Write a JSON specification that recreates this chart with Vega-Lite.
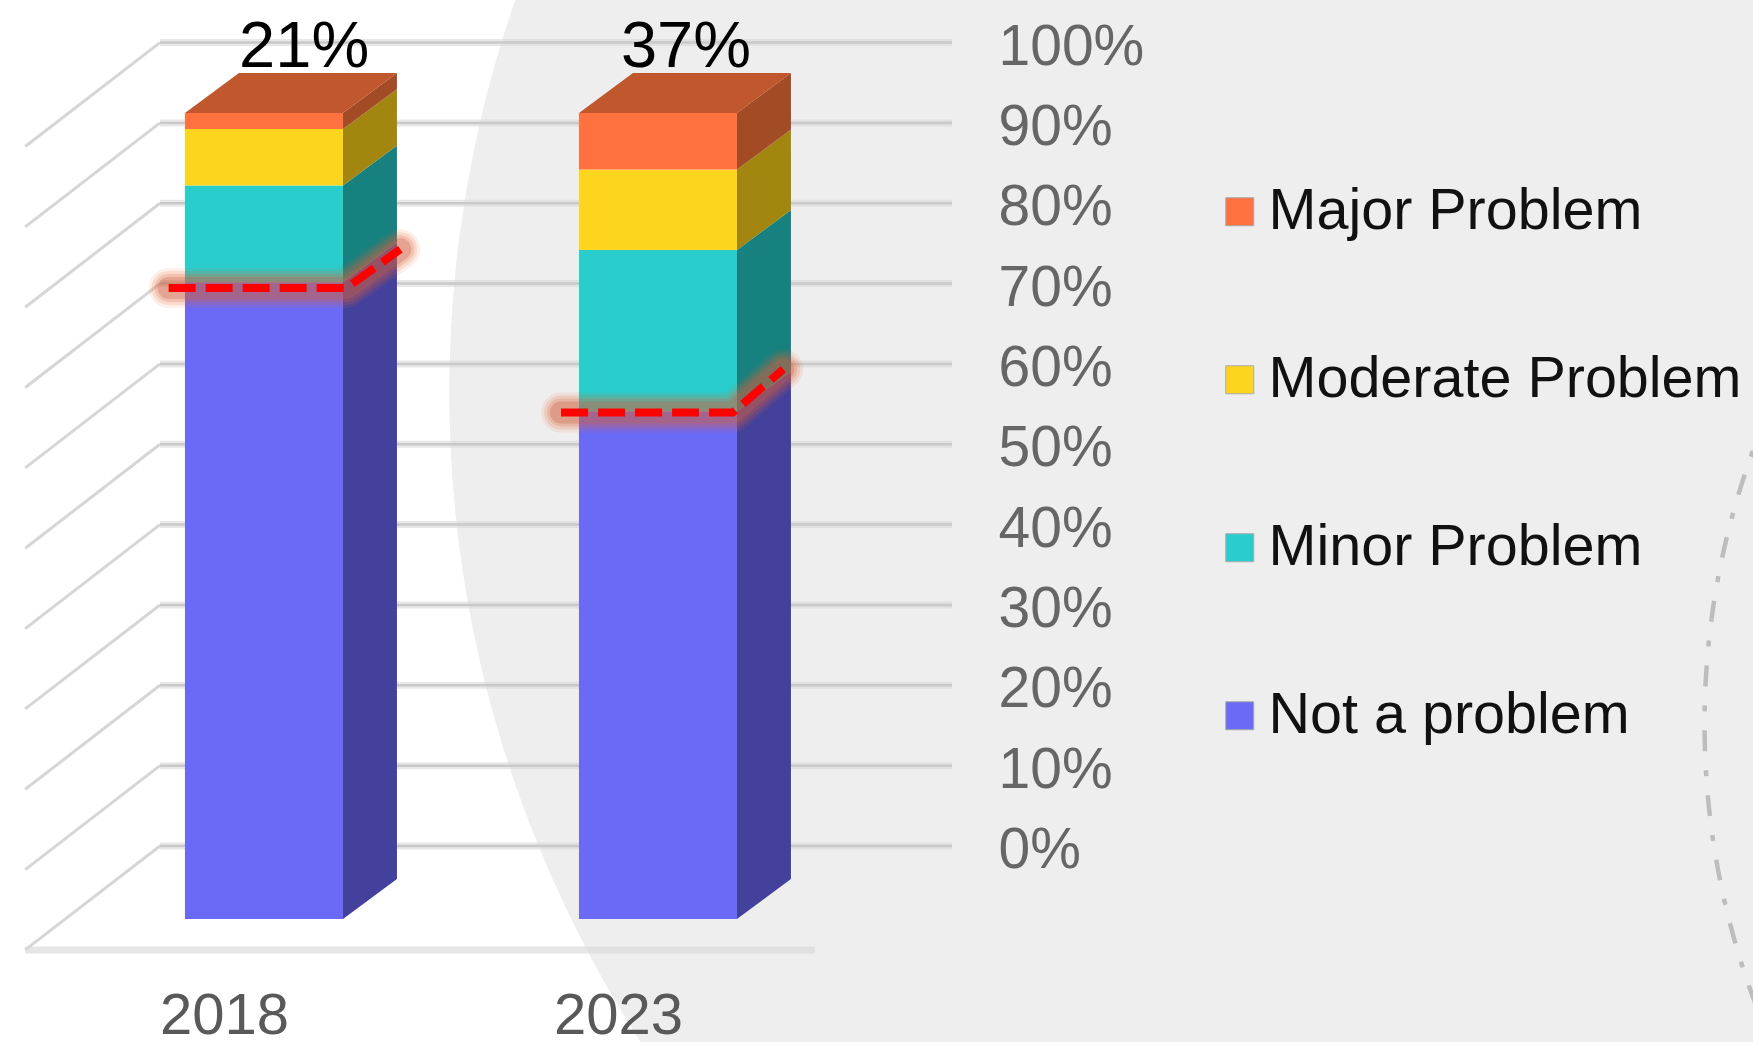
{
"$schema":"https://vega.github.io/schema/vega-lite/v6.json",
"width":1753,"height":1042,"padding":0,"autosize":{"type":"none"},"background":"#ffffff",
"config":{"view":{"stroke":null},"font":"Liberation Sans","text":{"font":"Liberation Sans"}},
"datasets":{
"shares":[
{"year":2018,"category":"Not a problem","rank":1,"share":79},
{"year":2018,"category":"Minor Problem","rank":2,"share":12},
{"year":2018,"category":"Moderate Problem","rank":3,"share":7},
{"year":2018,"category":"Major Problem","rank":4,"share":2},
{"year":2023,"category":"Not a problem","rank":1,"share":63},
{"year":2023,"category":"Minor Problem","rank":2,"share":20},
{"year":2023,"category":"Moderate Problem","rank":3,"share":10},
{"year":2023,"category":"Major Problem","rank":4,"share":7}],
"totals":[{"year":2018,"total":"21%","labelAt":2018.51},{"year":2023,"total":"37%","labelAt":2023.355}],
"ticks":[{"tick":0},{"tick":10},{"tick":20},{"tick":30},{"tick":40},{"tick":50},{"tick":60},{"tick":70},{"tick":80},{"tick":90},{"tick":100}],
"marker":[
{"year":2018,"at":2016.79,"pct":78.3},{"year":2018,"at":2019.05,"pct":78.3},{"year":2018,"at":2019.73,"pct":83.1},
{"year":2023,"at":2021.77,"pct":62.85},{"year":2023,"at":2023.95,"pct":62.85},{"year":2023,"at":2024.59,"pct":68.2}]
},
"resolve":{"scale":{"y":"independent","color":"independent"},"axis":{"x":"independent","y":"independent"}},
"layer":[
{"data":{"values":[{"cx":2035.58,"cy":56.5}]},
 "mark":{"type":"point","filled":true,"opacity":1,"fill":"#eeeeee","stroke":null,"size":5760000,"clip":true},
 "encoding":{"x":{"field":"cx","type":"quantitative","axis":null,"scale":{"domain":[2014.65,2036.896],"nice":false,"zero":false,"padding":0}},
 "y":{"field":"cy","type":"quantitative","axis":null,"scale":{"domain":[-24.4,105.3],"nice":false,"zero":false}}}},
{"data":{"values":[{"cx":2046.37,"cy":15.18}]},
 "mark":{"type":"point","filled":false,"opacity":1,"stroke":"#bdbdbd","strokeWidth":4.5,"strokeDash":[21,19,6,19],"size":2528100,"clip":true},
 "encoding":{"x":{"field":"cx","type":"quantitative","axis":null,"scale":{"domain":[2014.65,2036.896],"nice":false,"zero":false,"padding":0}},
 "y":{"field":"cy","type":"quantitative","axis":null,"scale":{"domain":[-24.4,105.3],"nice":false,"zero":false}}}},
{"data":{"name":"ticks"},
 "mark":{"type":"rule","color":"#d8d8d8","opacity":0.6,"strokeWidth":7},
 "encoding":{"x":{"datum":2016.68,"type":"quantitative","axis":null,"scale":{"domain":[2014.65,2036.896],"nice":false,"zero":false,"padding":0}},"x2":{"datum":2026.73},
 "y":{"field":"tick","type":"quantitative","axis":null,"scale":{"domain":[-24.4,105.3],"nice":false,"zero":false}}}},
{"data":{"name":"ticks"},
 "mark":{"type":"rule","color":"#c9c9c9","strokeWidth":2.5},
 "encoding":{"x":{"datum":2016.68,"type":"quantitative",
   "scale":{"domain":[2014.65,2036.896],"nice":false,"zero":false,"padding":0},
   "axis":{"orient":"bottom","values":[2018,2023],"format":"d","title":null,"domain":false,"ticks":false,"tickSize":0,"grid":false,"offset":-9,"labelPadding":0,"labelBaseline":"alphabetic","labelOffset":-40,"labelFontSize":58,"labelColor":"#595959","labelFont":"Liberation Sans","labelAlign":"center","zindex":1,"labelFlush":false,"labelOverlap":false}},
 "x2":{"datum":2026.73},
 "y":{"field":"tick","type":"quantitative",
   "scale":{"domain":[-24.4,105.3],"nice":false,"zero":false},
   "axis":{"orient":"left","values":[0,10,20,30,40,50,60,70,80,90,100],"labelExpr":"datum.value + '%'","title":null,"domain":false,"ticks":false,"tickSize":0,"grid":false,"offset":-998,"labelPadding":0,"labelAlign":"left","labelBaseline":"middle","labelOffset":4.5,"labelFontSize":57,"labelColor":"#666666","labelFont":"Liberation Sans","zindex":1,"labelOverlap":false}}}},
{"data":{"name":"ticks"},
 "transform":[{"calculate":"datum.tick - 12.94","as":"near"}],
 "mark":{"type":"rule","color":"#d6d6d6","strokeWidth":3},
 "encoding":{"x":{"datum":2016.68,"type":"quantitative","axis":null,"scale":{"domain":[2014.65,2036.896],"nice":false,"zero":false,"padding":0}},"x2":{"datum":2014.97},
 "y":{"field":"tick","type":"quantitative","axis":null,"scale":{"domain":[-24.4,105.3],"nice":false,"zero":false}},"y2":{"field":"near"}}},
{"data":{"values":[{"floor":-12.94}]},
 "mark":{"type":"rule","color":"#d8d8d8","opacity":0.65,"strokeWidth":7},
 "encoding":{"x":{"datum":2014.97,"type":"quantitative","axis":null,"scale":{"domain":[2014.65,2036.896],"nice":false,"zero":false,"padding":0}},"x2":{"datum":2024.99},
 "y":{"field":"floor","type":"quantitative","axis":null,"scale":{"domain":[-24.4,105.3],"nice":false,"zero":false}}}},
{"data":{"name":"shares"},
 "transform":[
  {"stack":"share","groupby":["year"],"sort":[{"field":"rank","order":"ascending"}],"as":["lo","hi"]},
  {"calculate":"[0,1]","as":"d"},{"flatten":["d"]},
  {"calculate":"datum.year + 1.0025 + datum.d * 0.685","as":"sx"},
  {"calculate":"datum.lo + datum.d * 4.96","as":"slo"},
  {"calculate":"datum.hi + datum.d * 4.96","as":"shi"}],
 "mark":{"type":"area","interpolate":"linear"},
 "encoding":{"x":{"field":"sx","type":"quantitative","axis":null,"scale":{"domain":[2014.65,2036.896],"nice":false,"zero":false,"padding":0}},
 "y":{"field":"slo","type":"quantitative","axis":null,"stack":null,"scale":{"domain":[-15.26,114.02],"nice":false,"zero":false}},
 "y2":{"field":"shi"},
 "detail":{"field":"year"},
 "color":{"field":"category","type":"nominal","legend":null,"scale":{"domain":["Major Problem","Moderate Problem","Minor Problem","Not a problem"],"range":["#A34B25","#A3860F","#178180","#44419C"]}}}},
{"data":{"name":"totals"},
 "transform":[{"calculate":"[0,1]","as":"d"},{"flatten":["d"]},
  {"calculate":"datum.year - 1.0025 + datum.d * 0.685","as":"tl"},
  {"calculate":"datum.year + 1.0025 + datum.d * 0.685","as":"tr"},
  {"calculate":"100 + datum.d * 4.96","as":"ty"}],
 "mark":{"type":"area","orient":"horizontal","color":"#C0572D"},
 "encoding":{"x":{"field":"tl","type":"quantitative","axis":null,"scale":{"domain":[2014.65,2036.896],"nice":false,"zero":false,"padding":0}},"x2":{"field":"tr"},
 "y":{"field":"ty","type":"quantitative","axis":null,"stack":null,"scale":{"domain":[-15.26,114.02],"nice":false,"zero":false}},
 "detail":{"field":"year"}}},
{"data":{"name":"shares"},
 "transform":[{"stack":"share","groupby":["year"],"sort":[{"field":"rank","order":"ascending"}],"as":["lo","hi"]}],
 "mark":{"type":"bar","width":158},
 "encoding":{"x":{"field":"year","type":"quantitative","axis":null,"scale":{"domain":[2014.65,2036.896],"nice":false,"zero":false,"padding":0}},
 "y":{"field":"lo","type":"quantitative","axis":null,"stack":null,"scale":{"domain":[-15.26,114.02],"nice":false,"zero":false}},
 "y2":{"field":"hi"},
 "color":{"field":"category","type":"nominal","title":null,
  "scale":{"domain":["Major Problem","Moderate Problem","Minor Problem","Not a problem"],"range":["#FF7240","#FDD51F","#28CDCC","#6A6AF6"]},
  "legend":{"orient":"none","legendX":1211,"legendY":183,"padding":0,"direction":"vertical","columns":1,"symbolType":"square","symbolSize":784,"symbolStrokeColor":"#aaaaaa","symbolStrokeWidth":1,"labelFontSize":57.5,"labelFont":"Liberation Sans","labelColor":"#111111","labelLimit":600,"labelOffset":0,"rowPadding":109,"title":null,"symbolOpacity":1}}}},
{"data":{"name":"marker"},"mark":{"type":"line","color":"#E8622C","opacity":0.1,"strokeWidth":40,"strokeCap":"round","strokeJoin":"round"},
 "encoding":{"x":{"field":"at","type":"quantitative","axis":null,"scale":{"domain":[2014.65,2036.896],"nice":false,"zero":false,"padding":0}},"y":{"field":"pct","type":"quantitative","axis":null,"scale":{"domain":[-15.26,114.02],"nice":false,"zero":false}},"detail":{"field":"year"}}},
{"data":{"name":"marker"},"mark":{"type":"line","color":"#E8622C","opacity":0.15,"strokeWidth":34,"strokeCap":"round","strokeJoin":"round"},
 "encoding":{"x":{"field":"at","type":"quantitative","axis":null,"scale":{"domain":[2014.65,2036.896],"nice":false,"zero":false,"padding":0}},"y":{"field":"pct","type":"quantitative","axis":null,"scale":{"domain":[-15.26,114.02],"nice":false,"zero":false}},"detail":{"field":"year"}}},
{"data":{"name":"marker"},"mark":{"type":"line","color":"#D9603A","opacity":0.2,"strokeWidth":28,"strokeCap":"round","strokeJoin":"round"},
 "encoding":{"x":{"field":"at","type":"quantitative","axis":null,"scale":{"domain":[2014.65,2036.896],"nice":false,"zero":false,"padding":0}},"y":{"field":"pct","type":"quantitative","axis":null,"scale":{"domain":[-15.26,114.02],"nice":false,"zero":false}},"detail":{"field":"year"}}},
{"data":{"name":"marker"},"mark":{"type":"line","color":"#C8604A","opacity":0.3,"strokeWidth":22,"strokeCap":"round","strokeJoin":"round"},
 "encoding":{"x":{"field":"at","type":"quantitative","axis":null,"scale":{"domain":[2014.65,2036.896],"nice":false,"zero":false,"padding":0}},"y":{"field":"pct","type":"quantitative","axis":null,"scale":{"domain":[-15.26,114.02],"nice":false,"zero":false}},"detail":{"field":"year"}}},
{"data":{"name":"marker"},"mark":{"type":"line","color":"#FF0000","strokeWidth":8,"strokeDash":[27,10]},
 "encoding":{"x":{"field":"at","type":"quantitative","axis":null,"scale":{"domain":[2014.65,2036.896],"nice":false,"zero":false,"padding":0}},"y":{"field":"pct","type":"quantitative","axis":null,"scale":{"domain":[-15.26,114.02],"nice":false,"zero":false}},"detail":{"field":"year"}}},
{"data":{"name":"totals"},
 "transform":[{"calculate":"105.7","as":"ly"}],
 "mark":{"type":"text","fontSize":65,"font":"Liberation Sans","color":"#000000","baseline":"alphabetic","align":"center"},
 "encoding":{"x":{"field":"labelAt","type":"quantitative","axis":null,"scale":{"domain":[2014.65,2036.896],"nice":false,"zero":false,"padding":0}},
 "y":{"field":"ly","type":"quantitative","axis":null,"scale":{"domain":[-15.26,114.02],"nice":false,"zero":false}},
 "text":{"field":"total"}}}
]
}
